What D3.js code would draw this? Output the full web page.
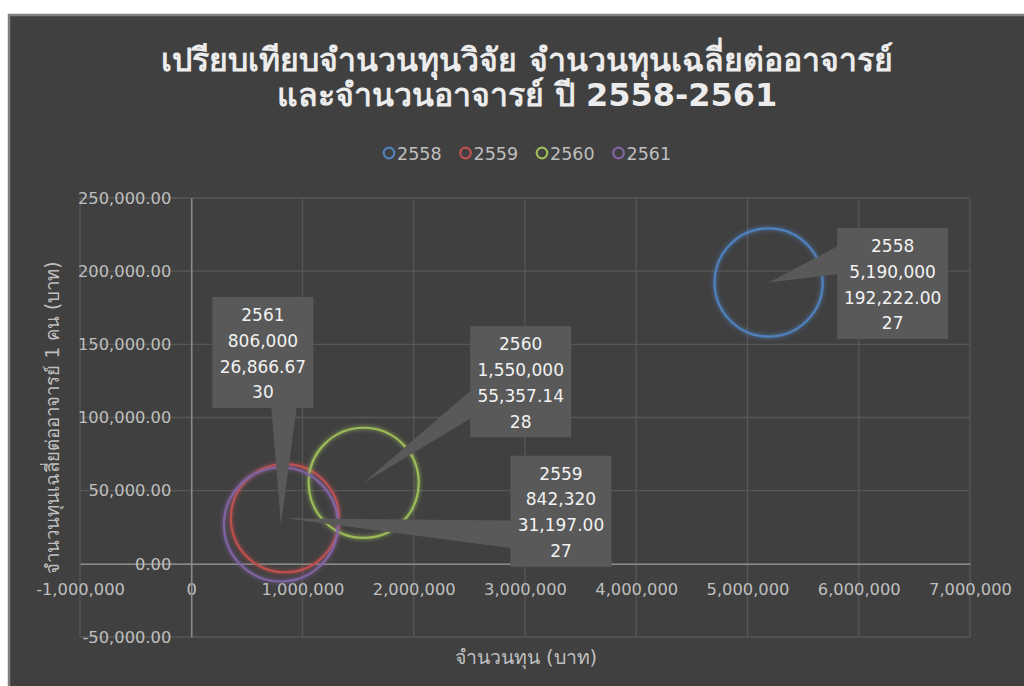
<!DOCTYPE html>
<html><head><meta charset="utf-8">
<script src="https://cdn.jsdelivr.net/npm/d3@7"></script>
<style>html,body{margin:0;padding:0;background:#fff;overflow:hidden;}</style>
</head><body>
<svg id="c" width="1024" height="686"></svg>
<script>
// ---- data ----
const years = ["2558", "2559", "2560", "2561"];
const funds = [5190000, 842320, 1550000, 806000];            // จำนวนทุน (บาท)
const avgPerTeacher = [192222.00, 31197.00, 55357.14, 26866.67]; // ทุนเฉลี่ยต่ออาจารย์
const teachers = [27, 27, 28, 30];                          // จำนวนอาจารย์ (bubble size)
const colors = ["#4f81bd", "#c0504d", "#9bbb59", "#8064a2"];
const xTicks = [-1000000, 0, 1000000, 2000000, 3000000, 4000000, 5000000, 6000000, 7000000];
const yTicks = [-50000, 0, 50000, 100000, 150000, 200000, 250000];
const titleLines = ["เปรียบเทียบจำนวนทุนวิจัย จำนวนทุนเฉลี่ยต่ออาจารย์", "และจำนวนอาจารย์ ปี 2558-2561"];
const xTitle = "จำนวนทุน (บาท)";
const yTitle = "จำนวนทุนเฉลี่ยต่ออาจารย์ 1 คน (บาท)";
// label box offsets (layout, px from the bubble centre)
const labelOffsets = [[124, 1], [276, -7], [157, -101], [-18, -172]];

const svg = d3.select("#c");
const FONT = "'DejaVu Sans', 'Noto Sans', sans-serif";

const defs = svg.append("defs");
colors.forEach((c, i) => {
  const f = defs.append("filter").attr("id", "glow" + i)
    .attr("x", "-20%").attr("y", "-20%").attr("width", "140%").attr("height", "140%");
  f.append("feGaussianBlur").attr("in", "SourceGraphic").attr("stdDeviation", 2.2).attr("result", "b");
  const m = f.append("feMerge");
  m.append("feMergeNode").attr("in", "b");
  m.append("feMergeNode").attr("in", "SourceGraphic");
});

// chart background
svg.append("rect").attr("x", 9).attr("y", 15).attr("width", 1030).attr("height", 700)
  .attr("fill", "#404040").attr("stroke", "#7f7f7f").attr("stroke-width", 2.5);

// title
const title = svg.append("text").attr("text-anchor", "middle")
  .attr("font-family", FONT).attr("font-weight", "bold").attr("font-size", 32)
  .attr("fill", "#ececec");
titleLines.forEach((t, i) => title.append("tspan").attr("x", 527).attr("y", 71 + i * 35).text(t));

// scales
const x = d3.scaleLinear().domain([-1000000, 7000000]).range([80, 970]);
const y = d3.scaleLinear().domain([-50000, 250000]).range([637, 198]);
const r = d3.scaleSqrt().domain([0, 30]).range([0, 57]);

// gridlines
const g = svg.append("g");
g.selectAll(".vg").data(xTicks).join("line")
  .attr("x1", d => x(d)).attr("x2", d => x(d)).attr("y1", y(250000)).attr("y2", y(-50000))
  .attr("stroke", "#575757").attr("stroke-width", 1.3);
g.selectAll(".hg").data(yTicks).join("line")
  .attr("x1", x(-1000000)).attr("x2", x(7000000)).attr("y1", d => y(d)).attr("y2", d => y(d))
  .attr("stroke", "#575757").attr("stroke-width", 1.3);

// axes (crossing at zero)
const xAxis = d3.axisBottom(x).tickValues(xTicks).tickSize(0).tickPadding(20)
  .tickFormat(d => d === 0 ? "0" : d3.format(",")(d).replace("\u2212", "-"));
const yAxis = d3.axisLeft(y).tickValues(yTicks).tickSize(0).tickPadding(20)
  .tickFormat(d => d3.format(",.2f")(d).replace("\u2212", "-"));
const xa = svg.append("g").attr("transform", `translate(0,${y(0)})`).call(xAxis);
const ya = svg.append("g").attr("transform", `translate(${x(0)},0)`).call(yAxis);
[xa, ya].forEach(a => {
  a.select(".domain").attr("stroke", "#8a8a8a").attr("stroke-width", 1.5);
  a.selectAll("text").attr("font-family", FONT).attr("font-size", 16.3).attr("fill", "#bfbfbf");
});

// axis titles
svg.append("text").attr("x", 526).attr("y", 664).attr("text-anchor", "middle")
  .attr("font-family", FONT).attr("font-size", 19.5).attr("fill", "#bfbfbf").text(xTitle);
svg.append("text").attr("transform", `translate(59,${(y(250000) + y(-50000)) / 2}) rotate(-90)`)
  .attr("text-anchor", "middle").attr("font-family", FONT).attr("font-size", 18.6)
  .attr("fill", "#bfbfbf").text(yTitle);

// legend
const leg = svg.append("g").attr("font-family", FONT).attr("font-size", 17.5).attr("fill", "#bfbfbf")
  .attr("transform", "translate(389,153)");
years.forEach((yr, i) => {
  const it = leg.append("g").attr("transform", `translate(${i * 76.5},0)`);
  it.append("circle").attr("cx", 0).attr("cy", 0).attr("r", 5.3).attr("fill", "none")
    .attr("stroke", colors[i]).attr("stroke-width", 2.2);
  it.append("text").attr("x", 8).attr("y", 6.5).text(yr);
});

// bubbles
const data = years.map((yr, i) => ({ yr, fx: funds[i], fy: avgPerTeacher[i], n: teachers[i], c: colors[i], i }));
svg.append("g").selectAll("circle").data(data).join("circle")
  .attr("cx", d => x(d.fx)).attr("cy", d => y(d.fy)).attr("r", d => r(d.n))
  .attr("fill", "none").attr("stroke", d => d.c).attr("stroke-width", 2.2)
  .attr("filter", d => `url(#glow${d.i})`);

// callout labels (wedgeRectCallout)
const fmtInt = d3.format(",");
const fmt2 = d3.format(",.2f");
const LH = 25.8, FS = 17;
const lg = svg.append("g").attr("font-family", FONT).attr("font-size", FS);
data.forEach((d, k) => {
  const lines = [d.yr, fmtInt(d.fx), fmt2(d.fy), String(d.n)];
  const grp = lg.append("g");
  const path = grp.append("path").attr("fill", "#595959");
  const txt = grp.append("text").attr("fill", "#f2f2f2").attr("text-anchor", "middle");
  const tsp = lines.map(s => txt.append("tspan").text(s));
  const tw = d3.max(tsp, t => t.node().getComputedTextLength());
  const bw = Math.round(tw + 14), bh = 111;
  const px = x(d.fx), py = y(d.fy);
  const cx = px + labelOffsets[k][0], cy = py + labelOffsets[k][1];
  const L = cx - bw / 2, T = cy - bh / 2, R = L + bw, B = T + bh;
  tsp.forEach((t, j) => t.attr("x", cx).attr("y", T + 24 + j * LH));
  // wedge
  const dx = px - cx, dy = py - cy;
  const horiz = Math.abs(dx) * bh / bw > Math.abs(dy);
  let p;
  if (horiz) {
    const y1 = T + bh * (dy > 0 ? 7 : 2) / 12, y2 = T + bh * (dy > 0 ? 10 : 5) / 12;
    if (dx < 0) p = [[L, T], [R, T], [R, B], [L, B], [L, y2], [px, py], [L, y1]];
    else p = [[L, T], [R, T], [R, y1], [px, py], [R, y2], [R, B], [L, B]];
  } else {
    const x1 = L + bw * (dx > 0 ? 7 : 2) / 12, x2 = L + bw * (dx > 0 ? 10 : 5) / 12;
    if (dy > 0) p = [[L, T], [R, T], [R, B], [x2, B], [px, py], [x1, B], [L, B]];
    else p = [[L, T], [x1, T], [px, py], [x2, T], [R, T], [R, B], [L, B]];
  }
  path.attr("d", d3.line()(p) + "Z");
});
</script>
</body></html>
